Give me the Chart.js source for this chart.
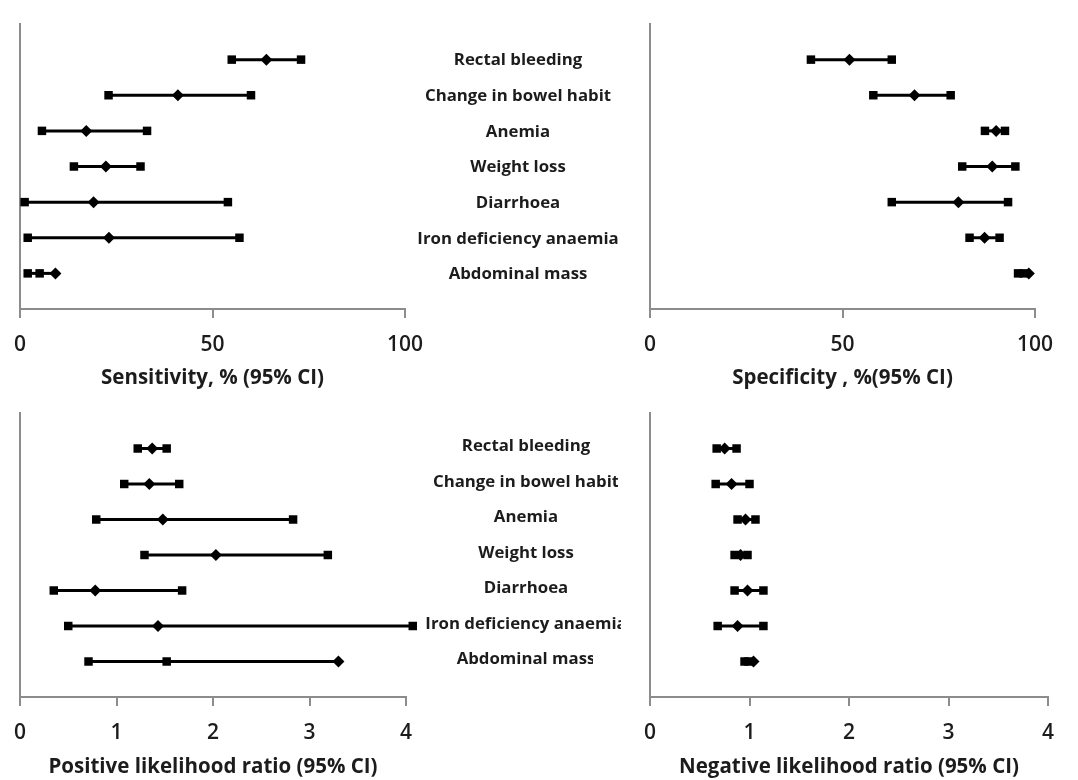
<!DOCTYPE html>
<html>
<head>
<meta charset="utf-8">
<title>Diagnostic accuracy of symptoms</title>
<script src="https://cdn.jsdelivr.net/npm/chart.js@4"></script>
<style>
  html, body { margin: 0; padding: 0; background: #ffffff; }
  #wrap { position: relative; width: 1078px; height: 780px; overflow: hidden; }
  canvas { position: absolute; }
</style>
</head>
<body>
<div id="wrap">
  <canvas id="sens" width="640" height="400" style="left:0;top:0"></canvas>
  <canvas id="spec" width="448" height="400" style="left:630px;top:0"></canvas>
  <canvas id="plr" width="640" height="390" style="left:0;top:390px"></canvas>
  <canvas id="nlr" width="448" height="390" style="left:630px;top:390px"></canvas>
</div>
<script>
// Symptoms, listed top to bottom
const symptoms = ['Rectal bleeding', 'Change in bowel habit', 'Anemia', 'Weight loss',
                  'Diarrhoea', 'Iron deficiency anaemia', 'Abdominal mass'];

// Sensitivity, % (95% CI)
const sensLow   = [55, 23, 5.7, 14, 1.2, 2, 2];
const sensPoint = [64, 41, 17.2, 22.3, 19.1, 23.1, 9.2];
const sensHigh  = [73, 60, 33, 31.3, 54, 57, 5.1];

// Specificity, % (95% CI)
const specLow   = [41.8, 58, 87, 81.1, 62.8, 83, 95.6];
const specPoint = [51.8, 68.7, 89.9, 88.9, 80.1, 86.9, 98.4];
const specHigh  = [62.8, 78.1, 92.2, 94.9, 93, 90.8, 97];

// Positive likelihood ratio (95% CI)
const plrLow   = [1.22, 1.08, 0.79, 1.29, 0.35, 0.50, 0.71];
const plrPoint = [1.37, 1.34, 1.48, 2.03, 0.78, 1.43, 3.30];
const plrHigh  = [1.52, 1.65, 2.83, 3.19, 1.68, 4.07, 1.52];

// Negative likelihood ratio (95% CI)
const nlrLow   = [0.67, 0.66, 0.88, 0.85, 0.85, 0.68, 0.95];
const nlrPoint = [0.75, 0.82, 0.96, 0.91, 0.98, 0.88, 1.04];
const nlrHigh  = [0.87, 1.00, 1.06, 0.98, 1.14, 1.14, 0.99];

// Axis ticks
const pctTicks = [0, 50, 100];
const ratioTicks = [0, 1, 2, 3, 4];

const FONT = '"Open Sans", Lato, sans-serif';
const INK = '#1c1c1c';
const AXIS = '#8c8c8c';

// One dataset per symptom: the CI line with square ends and a diamond estimate
function rowDatasets(low, point, high) {
  return symptoms.map((name, i) => {
    const y = symptoms.length - i;
    const pts = [
      { x: low[i], y, m: 'rect' },
      { x: point[i], y, m: 'rectRot' },
      { x: high[i], y, m: 'rect' }
    ].sort((a, b) => a.x - b.x);
    return {
      label: name,
      data: pts,
      showLine: true,
      borderColor: '#000',
      borderWidth: 3,
      backgroundColor: '#000',
      pointBackgroundColor: '#000',
      pointBorderColor: '#000',
      pointBorderWidth: 0,
      pointRadius: 6,
      // larger hover radius keeps end markers just past the axis end from being culled
      pointHoverRadius: 14,
      pointStyle: ctx => (ctx.raw ? ctx.raw.m : 'rect'),
      clip: false
    };
  });
}

// Symptom names written in the gap between the two panels of a row
const rowLabels = {
  id: 'rowLabels',
  afterDraw(chart, args, opts) {
    if (!opts || !opts.show) return;
    const { ctx } = chart;
    const ys = chart.scales.y;
    ctx.save();
    ctx.font = 'bold 16.8px ' + FONT;
    ctx.fillStyle = INK;
    ctx.textAlign = 'center';
    ctx.textBaseline = 'middle';
    symptoms.forEach((name, i) => {
      const py = ys.getPixelForValue(symptoms.length - i) + opts.dy;
      const cut = opts.cut ? opts.cut[i] : null;
      ctx.save();
      if (cut) {
        ctx.beginPath();
        ctx.rect(0, py - 20, cut, 40);
        ctx.clip();
      }
      ctx.fillText(name, opts.x, py);
      ctx.restore();
    });
    ctx.restore();
  }
};

function makePanel(id, cfg) {
  const canvas = document.getElementById(id);
  const H = canvas.height;
  return new Chart(canvas, {
    type: 'scatter',
    data: { datasets: rowDatasets(cfg.low, cfg.point, cfg.high) },
    plugins: [rowLabels],
    options: {
      responsive: false,
      animation: false,
      devicePixelRatio: 1,
      events: [],
      layout: { padding: { left: cfg.left, right: canvas.width - cfg.right, top: cfg.top, bottom: 0 } },
      plugins: {
        legend: { display: false },
        tooltip: { enabled: false },
        rowLabels: cfg.labels || { show: false }
      },
      scales: {
        x: {
          type: 'linear',
          position: 'bottom',
          min: cfg.ticks[0],
          max: cfg.ticks[cfg.ticks.length - 1],
          afterBuildTicks: s => { s.ticks = cfg.ticks.map(v => ({ value: v })); },
          afterFit: s => { s.height = H - cfg.bottom; },
          grid: { display: true, drawOnChartArea: false, drawTicks: true, tickLength: 9, color: AXIS, lineWidth: 2 },
          border: { display: true, color: AXIS, width: 2 },
          ticks: { color: INK, padding: 14, font: { family: FONT, size: 21, weight: '600' } },
          title: {
            display: true,
            text: cfg.title,
            color: INK,
            font: { family: FONT, size: 20.5, weight: 'bold' },
            padding: { top: 0, bottom: cfg.titlePad }
          }
        },
        y: {
          type: 'linear',
          position: 'left',
          min: 0,
          max: 8,
          afterFit: s => { s.width = 0; },
          grid: { display: false },
          border: { display: true, color: AXIS, width: 2 },
          ticks: { display: false }
        }
      }
    }
  });
}

makePanel('sens', {
  low: sensLow, point: sensPoint, high: sensHigh, ticks: pctTicks,
  title: 'Sensitivity, % (95% CI)',
  left: 19, right: 405, top: 24, bottom: 309, titlePad: 10,
  labels: { show: true, x: 518, dy: 1 }
});
makePanel('spec', {
  low: specLow, point: specPoint, high: specHigh, ticks: pctTicks,
  title: 'Specificity , %(95% CI)',
  left: 19, right: 405, top: 24, bottom: 309, titlePad: 10
});
makePanel('plr', {
  low: plrLow, point: plrPoint, high: plrHigh, ticks: ratioTicks,
  title: 'Positive likelihood ratio (95% CI)',
  left: 19, right: 406, top: 23, bottom: 307, titlePad: 1,
  labels: { show: true, x: 526, dy: -2, cut: [null, 618, null, null, null, 621, 593] }
});
makePanel('nlr', {
  low: nlrLow, point: nlrPoint, high: nlrHigh, ticks: ratioTicks,
  title: 'Negative likelihood ratio (95% CI)',
  left: 18, right: 418, top: 23, bottom: 307, titlePad: 1
});
</script>
</body>
</html>
